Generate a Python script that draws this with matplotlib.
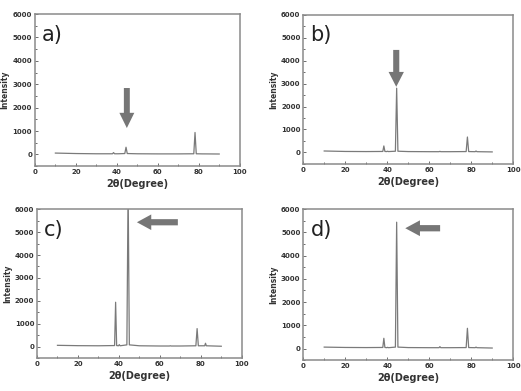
import matplotlib
matplotlib.use('Agg')
import matplotlib.pyplot as plt
from matplotlib.ticker import MultipleLocator

# 2-theta sample points (deg), shared by all four patterns
two_theta = [10, 20, 30, 37.9, 38.4, 38.9, 39.8, 40.2, 40.6, 43.9, 44.5, 45.1,
             50, 60, 64.7, 65.1, 65.5, 70, 77.6, 78.2, 78.8, 81.9, 82.3, 82.7, 90]

int_a = [60, 40, 30, 30, 80, 30, 30, 30, 30, 40, 310, 40,
         30, 25, 25, 25, 25, 25, 30, 940, 30, 25, 25, 25, 20]
int_b = [60, 40, 35, 40, 280, 40, 35, 50, 35, 50, 2800, 50,
         35, 30, 30, 45, 30, 30, 35, 670, 35, 30, 60, 30, 20]
int_c = [60, 45, 40, 50, 1940, 50, 40, 90, 40, 80, 7000, 80,
         40, 30, 30, 40, 30, 30, 40, 790, 40, 40, 150, 40, 20]
int_d = [60, 45, 40, 45, 440, 45, 35, 50, 35, 60, 5440, 60,
         40, 35, 35, 80, 35, 35, 40, 870, 40, 35, 60, 35, 20]

labels = ['a)', 'b)', 'c)', 'd)']
patterns = [int_a, int_b, int_c, int_d]

# arrows: (x_start, y_start, dx, dy)
arrows = [(44.9, 2840, 0, -1710),
          (44.3, 4470, 0, -1610),
          (68.8, 5430, -20.0, 0),
          (65.2, 5180, -16.6, 0)]

positions = [[0.067, 0.575, 0.393, 0.389],
             [0.582, 0.581, 0.403, 0.381],
             [0.071, 0.084, 0.393, 0.381],
             [0.582, 0.079, 0.403, 0.386]]

fig = plt.figure(figsize=(5.21, 3.91), dpi=100)
grey = '#767676'

for i in range(4):
    ax = fig.add_axes(positions[i])
    ax.plot(two_theta, patterns[i], color='#7a7a7a', lw=0.9)
    ax.set_xlim(0, 100)
    ax.set_ylim(-500, 6000)
    ax.xaxis.set_major_locator(MultipleLocator(20))
    ax.xaxis.set_minor_locator(MultipleLocator(10))
    ax.yaxis.set_major_locator(MultipleLocator(1000))
    ax.yaxis.set_minor_locator(MultipleLocator(500))
    ax.tick_params(which='both', direction='in', color='#555555', width=0.6)
    ax.tick_params(which='major', length=2.5, labelsize=5, pad=2)
    ax.tick_params(which='minor', length=1.5)
    for t in ax.get_xticklabels() + ax.get_yticklabels():
        t.set_fontweight('bold')
        t.set_color('#333333')
    for s in ax.spines.values():
        s.set_color('#8a8a8a')
        s.set_linewidth(1.1)
    ax.set_xlabel('2θ(Degree)', fontsize=7, fontweight='bold', color='#333333', labelpad=3)
    ax.set_ylabel('Intensity', fontsize=5.5, fontweight='bold', color='#333333', labelpad=2)
    ax.text(0.035, 0.93, labels[i], transform=ax.transAxes, fontsize=15,
            va='top', ha='left', color='#222222')

    x0, y0, dx, dy = arrows[i]
    if dx == 0:
        ax.arrow(x0, y0, dx, dy, width=2.9, head_width=7.3, head_length=650,
                 length_includes_head=True, color=grey, lw=0)
    else:
        ax.arrow(x0, y0, dx, dy, width=270, head_width=680, head_length=7.0,
                 length_includes_head=True, color=grey, lw=0)

plt.savefig('out.png', dpi=100)
